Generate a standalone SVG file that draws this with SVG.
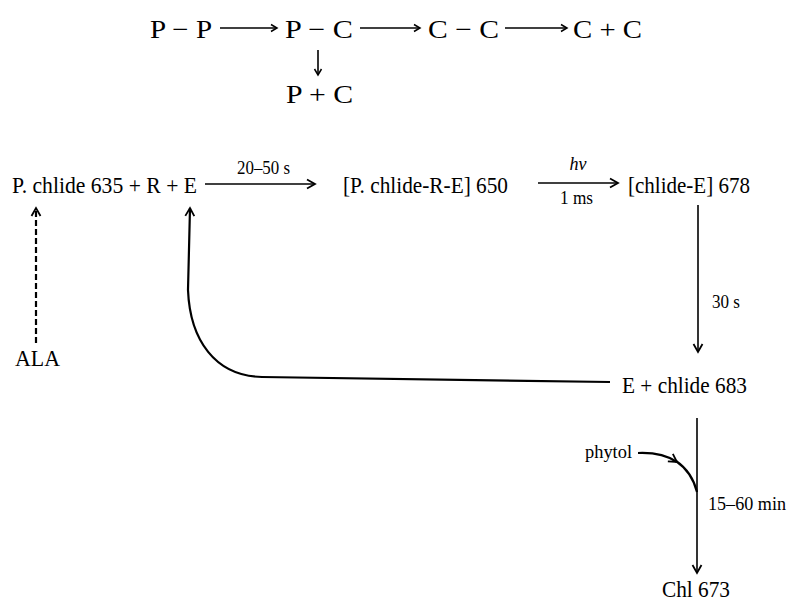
<svg xmlns="http://www.w3.org/2000/svg" width="787" height="603" viewBox="0 0 787 603">
<style>
.t{font-family:"Liberation Serif",serif;fill:#000}
.big{font-size:26px}
.m{font-size:23px}
.s{font-size:18px}
.ln{fill:none;stroke:#000;stroke-width:1.6}
.th{stroke-width:2.2}
.da{stroke-dasharray:6,3}
</style>
<defs>
<marker id="ah" markerUnits="userSpaceOnUse" markerWidth="12" markerHeight="12" refX="9" refY="5" orient="auto" overflow="visible">
<path d="M1,0.5 L9,5 L1,9.5" fill="none" stroke="#000" stroke-width="1.8"/>
</marker>
<marker id="sm" markerUnits="userSpaceOnUse" markerWidth="10" markerHeight="10" refX="7" refY="4" orient="auto" overflow="visible">
<path d="M1,0.5 L7,4 L1,7.5" fill="none" stroke="#000" stroke-width="1.5"/>
</marker>
</defs>
<rect width="787" height="603" fill="#fff"/>
<g id="top">
<text id="pp" class="t big" x="150" y="38" textLength="62" lengthAdjust="spacingAndGlyphs">P − P</text>
<text id="pc" class="t big" x="285" y="38" textLength="68" lengthAdjust="spacingAndGlyphs">P − C</text>
<text id="cc" class="t big" x="428" y="38" textLength="71" lengthAdjust="spacingAndGlyphs">C − C</text>
<text id="cplusc" class="t big" x="573" y="38" textLength="69" lengthAdjust="spacingAndGlyphs">C + C</text>
<text id="pplusc" class="t big" x="286" y="103" textLength="67" lengthAdjust="spacingAndGlyphs">P + C</text>
</g>
<g id="n-pchlide"><text class="t m" x="12" y="193" textLength="185" lengthAdjust="spacingAndGlyphs">P. chlide 635 + R + E</text></g>
<g id="n-complex"><text class="t m" x="343" y="193" textLength="165" lengthAdjust="spacingAndGlyphs">[P. chlide-R-E] 650</text></g>
<g id="n-chlideE"><text class="t m" x="628" y="193" textLength="122" lengthAdjust="spacingAndGlyphs">[chlide-E] 678</text></g>
<g id="n-Echlide"><text class="t m" x="622" y="393" textLength="125" lengthAdjust="spacingAndGlyphs">E + chlide 683</text></g>
<g id="n-chl"><text class="t m" x="662" y="597" textLength="68" lengthAdjust="spacingAndGlyphs">Chl 673</text></g>
<g id="n-ala"><text class="t m" x="15" y="366" textLength="45" lengthAdjust="spacingAndGlyphs">ALA</text></g>
<g id="n-phytol"><text class="t s" x="585" y="458" textLength="47" lengthAdjust="spacingAndGlyphs">phytol</text></g>
<g id="labels">
<text class="t s" x="237" y="174" textLength="53" lengthAdjust="spacingAndGlyphs">20–50 s</text>
<text class="t s" x="578" y="170" text-anchor="middle" font-style="italic">hν</text>
<text class="t s" x="560" y="204" textLength="33" lengthAdjust="spacingAndGlyphs">1 ms</text>
<text class="t s" x="712" y="308" textLength="28" lengthAdjust="spacingAndGlyphs">30 s</text>
<text class="t s" x="708" y="510" textLength="78" lengthAdjust="spacingAndGlyphs">15–60 min</text>
</g>
<g id="connectors">
<path class="ln" d="M220,28 H277" marker-end="url(#sm)"/>
<path class="ln" d="M360,28 H420" marker-end="url(#sm)"/>
<path class="ln" d="M505,28 H567" marker-end="url(#sm)"/>
<path class="ln" d="M318,50 V75" marker-end="url(#sm)"/>
<path class="ln" d="M205,184 H315" marker-end="url(#ah)"/>
<path class="ln" d="M538,183 H618" marker-end="url(#ah)"/>
<path class="ln" d="M698,205 V352" marker-end="url(#ah)"/>
<path class="ln" d="M697,418 V573" marker-end="url(#ah)"/>
<path class="ln th da" d="M36,343 V208" marker-end="url(#ah)"/>
<path class="ln th" d="M610,382 L262,377 C215,376 190,340 188,290 L190,208" marker-end="url(#ah)"/>
<path class="ln th" d="M638,453 Q662,452 677,462" marker-end="url(#ah)"/>
<path class="ln th" d="M676,461 Q692,472 697,492"/>
</g>
</svg>
